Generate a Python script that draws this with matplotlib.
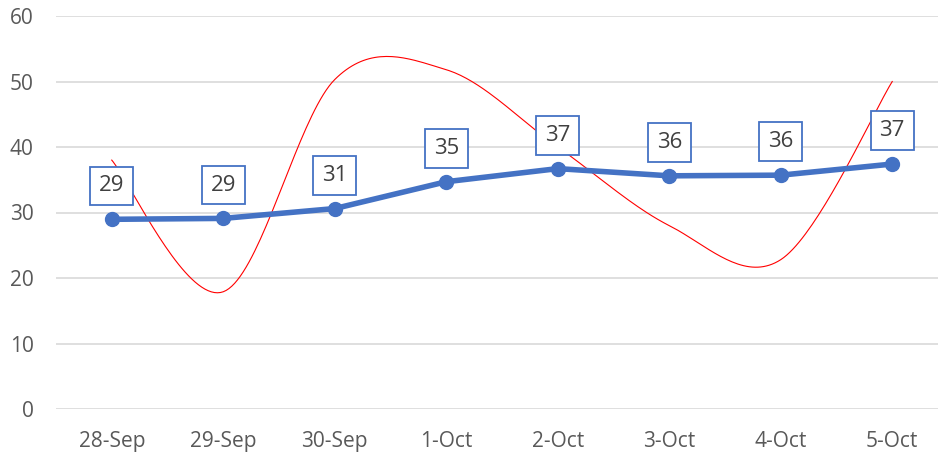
import numpy as np
import matplotlib.pyplot as plt

plt.rcParams['font.family'] = ['Open Sans', 'DejaVu Sans']

dates = ['28-Sep', '29-Sep', '30-Sep', '1-Oct', '2-Oct', '3-Oct', '4-Oct', '5-Oct']
avg = [28.96, 29.1, 30.6, 34.7, 36.7, 35.6, 35.7, 37.4]   # blue series
daily = [38.0, 17.9, 50.3, 51.8, 40.0, 28.0, 22.8, 50.0]  # red smoothed series


def smooth(xs, ys, n=40):
    # Excel style smoothing: cubic Bezier with Catmull-Rom control points
    px = np.array(xs, float)
    py = np.array(ys, float)
    px = np.concatenate([[px[0]], px, [px[-1]]])
    py = np.concatenate([[py[0]], py, [py[-1]]])
    t = np.linspace(0, 1, n)
    out_x, out_y = [], []
    for i in range(1, len(px) - 2):
        p0 = np.array([px[i], py[i]])
        p3 = np.array([px[i + 1], py[i + 1]])
        c1 = p0 + (np.array([px[i + 1], py[i + 1]]) - np.array([px[i - 1], py[i - 1]])) / 6
        c2 = p3 - (np.array([px[i + 2], py[i + 2]]) - np.array([px[i], py[i]])) / 6
        for tt in t:
            b = ((1 - tt) ** 3) * p0 + 3 * ((1 - tt) ** 2) * tt * c1 + 3 * (1 - tt) * tt ** 2 * c2 + tt ** 3 * p3
            out_x.append(b[0])
            out_y.append(b[1])
    return out_x, out_y


fig = plt.figure(figsize=(9.38, 4.57), dpi=100)
ax = fig.add_axes([56 / 938, 48 / 457, 892 / 938, 393 / 457])

x = np.arange(len(dates))
sx, sy = smooth(x, daily)
ax.plot(sx, sy, color='red', lw=0.8, zorder=2)
ax.plot(x, avg, color='#4472C4', lw=4, marker='o', markersize=10, zorder=3)

for xi, v in zip(x, avg):
    ax.annotate(f'{v:.0f}', (xi, v), xytext=(0, 24), textcoords='offset points',
                ha='center', va='center', fontsize=16, color='#404040', zorder=4,
                bbox=dict(boxstyle='square,pad=0.4', fc='white', ec='#4472C4', lw=1.3))

ax.set_xlim(-0.5, 7.5)
ax.set_ylim(0, 60)
ax.set_yticks(range(0, 61, 10))
ax.set_xticks(x)
ax.set_xticklabels(dates)
ax.grid(axis='y', color='#D9D9D9', lw=1.2)
ax.set_axisbelow(True)
for s in ax.spines.values():
    s.set_visible(False)
ax.tick_params(length=0, labelsize=15, labelcolor='#595959')
ax.tick_params(axis='y', pad=16)
ax.tick_params(axis='x', pad=16)

plt.savefig('out.png', dpi=100)
